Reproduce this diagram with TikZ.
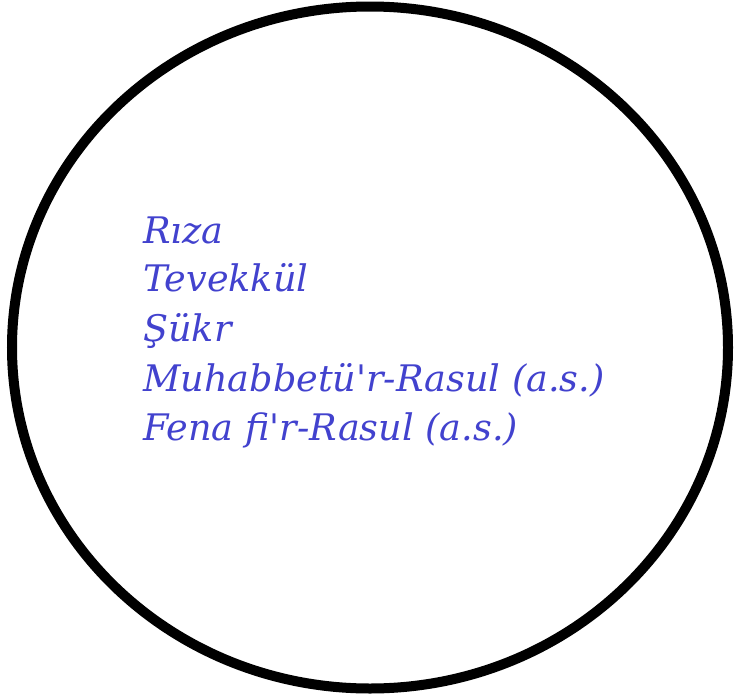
\documentclass[tikz,border=0pt]{standalone}
\usepackage{fontspec}
\setmainfont{DejaVu Serif}
\definecolor{txtblue}{RGB}{66,66,206}
\begin{document}
\begin{tikzpicture}[x=1pt,y=-1pt,
  lbl/.style={anchor=base west,inner sep=0pt,text=txtblue,font=\fontsize{36.6}{44}\selectfont\itshape}]
\useasboundingbox (0,0) rectangle (734,699);
\draw[line width=10pt] (370,347.5) ellipse [x radius=358, y radius=341];
\node[lbl] (l1) at (143,243) {Rıza};
\node[lbl] (l2) at (143,291) {Tevekkül};
\node[lbl] (l3) at (143,341) {Şükr};
\node[lbl] (l4) at (143,391) {Muhabbetü\textquotesingle r-Rasul (a.s.)};
\node[lbl] (l5) at (143,440) {Fena fi\textquotesingle r-Rasul (a.s.)};
\end{tikzpicture}
\end{document}
